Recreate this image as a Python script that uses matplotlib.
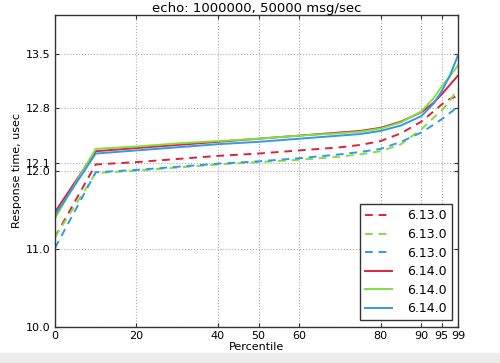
import matplotlib
matplotlib.use('Agg')
import matplotlib.pyplot as plt
from matplotlib.patches import Rectangle

percentiles = [0, 10, 20, 30, 40, 50, 60, 70, 75, 80, 85, 90, 93, 95, 97, 99]

# 6.13.0 (dashed)
old_red = [11.15, 12.08, 12.11, 12.15, 12.19, 12.22, 12.26, 12.30, 12.33, 12.38, 12.48, 12.63, 12.76, 12.85, 12.92, 12.96]
old_green = [11.15, 11.97, 12.00, 12.04, 12.08, 12.11, 12.14, 12.18, 12.21, 12.25, 12.34, 12.53, 12.68, 12.77, 12.90, 13.05]
old_blue = [11.01, 11.98, 12.01, 12.05, 12.09, 12.12, 12.16, 12.21, 12.24, 12.28, 12.37, 12.49, 12.59, 12.66, 12.74, 12.82]

# 6.14.0 (solid)
new_red = [11.47, 12.25, 12.29, 12.33, 12.37, 12.41, 12.45, 12.49, 12.51, 12.55, 12.63, 12.75, 12.87, 12.98, 13.10, 13.22]
new_green = [11.39, 12.28, 12.31, 12.35, 12.38, 12.41, 12.45, 12.48, 12.50, 12.54, 12.62, 12.76, 12.93, 13.08, 13.21, 13.35]
new_blue = [11.43, 12.22, 12.26, 12.30, 12.34, 12.37, 12.41, 12.45, 12.47, 12.51, 12.58, 12.70, 12.86, 13.02, 13.22, 13.48]

xticks = [0, 20, 40, 50, 60, 80, 90, 95, 99]
yticks = [10.0, 11.0, 12.0, 12.1, 12.8, 13.5]

red, green, blue = '#e0203c', '#80e040', '#3399e6'

fig = plt.figure(figsize=(5, 3.63), dpi=100)
fig.patches.append(Rectangle((0, 0), 1, 0.028, transform=fig.transFigure,
                             color='#ececec', zorder=0))
ax = fig.add_axes([0.11, 0.10, 0.806, 0.8595])

dash = (0, (4, 3))
ax.plot(percentiles, old_red, color=red, linestyle=dash, lw=1.4, label='6.13.0')
ax.plot(percentiles, old_green, color=green, linestyle=dash, lw=1.4, label='6.13.0')
ax.plot(percentiles, old_blue, color=blue, linestyle=dash, lw=1.4, label='6.13.0')
ax.plot(percentiles, new_red, color=red, lw=1.4, label='6.14.0')
ax.plot(percentiles, new_green, color=green, lw=1.4, label='6.14.0')
ax.plot(percentiles, new_blue, color=blue, lw=1.4, label='6.14.0')

ax.set_xlim(0, 99)
ax.set_ylim(10, 14)
ax.set_xticks(xticks)
ax.set_yticks(yticks)
ax.set_yticklabels(['%.1f' % v for v in yticks])
ax.tick_params(direction='in', top=True, right=True, labelsize=8, length=3,
               colors='#333333', labelcolor='black', pad=3)
ax.grid(True, linestyle=':', color='#aaaaaa', lw=0.8)
for s in ax.spines.values():
    s.set_color('#333333')
    s.set_linewidth(1.0)

ax.set_title('echo: 1000000, 50000 msg/sec', fontsize=9.5, pad=2)
ax.set_xlabel('Percentile', fontsize=8, labelpad=1)
ax.set_ylabel('Response time, usec', fontsize=8, labelpad=3)

leg = ax.legend(loc='lower right', fontsize=9, fancybox=False, framealpha=1,
                edgecolor='#333333', handlelength=2.2, labelspacing=0.45,
                borderaxespad=0.5, handletextpad=1.2)
leg.get_frame().set_linewidth(1.0)

fig.savefig('out.png', dpi=100)
